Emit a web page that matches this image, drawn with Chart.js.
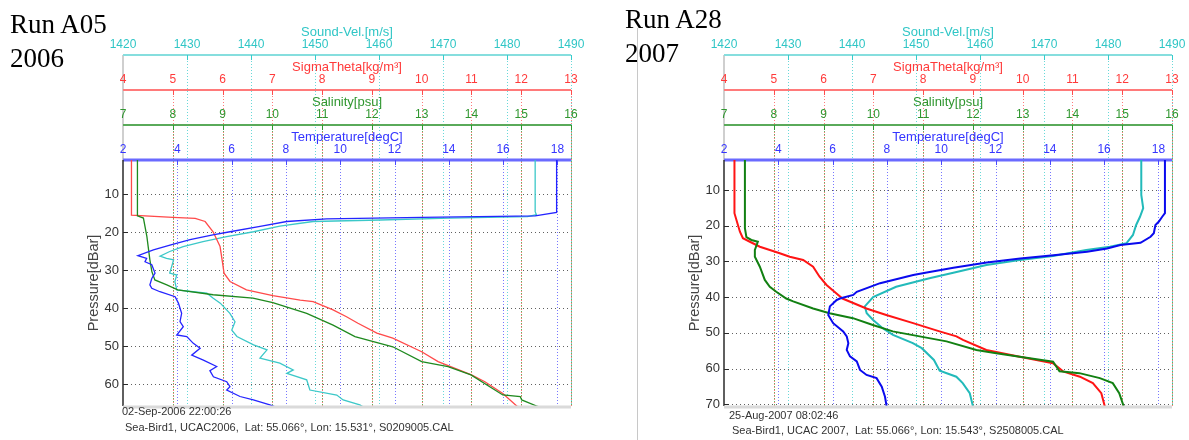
<!DOCTYPE html>
<html>
<head>
<meta charset="utf-8">
<title>CTD profiles — Run A05 (2006) and Run A28 (2007)</title>
<script src="https://cdn.jsdelivr.net/npm/chart.js@4.4.1/dist/chart.umd.min.js"></script>
<style>
  html, body { margin: 0; padding: 0; background: #fff; }
  body { position: relative; width: 1189px; height: 440px; overflow: hidden;
         font-family: 'Liberation Sans', Arial, sans-serif; }
  canvas { position: absolute; top: 0; }
  .run { position: absolute; font-family: 'Liberation Serif', 'Times New Roman', serif;
         font-size: 27px; line-height: 34px; color: #000; white-space: pre; }
  .info { position: absolute; font-size: 11px; line-height: 13px; color: #333; white-space: pre; }
  .divider { position: absolute; left: 637px; top: 28px; width: 1px; height: 412px; background: #c8c8c8; }
</style>
</head>
<body>
<div class="divider"></div>
<canvas id="runA05" width="620" height="440" style="left:0px"></canvas>
<canvas id="runA28" width="549" height="440" style="left:640px"></canvas>
<div class="run" style="left:10px;top:7px">Run A05
2006</div>
<div class="run" style="left:625px;top:2px">Run A28
2007</div>
<div class="info" style="left:122px;top:405px">02-Sep-2006 22:00:26</div>
<div class="info" style="left:125px;top:421px">Sea-Bird1, UCAC2006,  Lat: 55.066°, Lon: 15.531°, S0209005.CAL</div>
<div class="info" style="left:729px;top:409px">25-Aug-2007 08:02:46</div>
<div class="info" style="left:732px;top:424px">Sea-Bird1, UCAC 2007,  Lat: 55.066°, Lon: 15.543°, S2508005.CAL</div>

<script>
// ---------- axis ticks ----------
const SV_TICKS  = [1420, 1430, 1440, 1450, 1460, 1470, 1480, 1490];   // Sound-Vel. [m/s]
const SIG_TICKS = [4, 5, 6, 7, 8, 9, 10, 11, 12, 13];                 // SigmaTheta [kg/m3]
const SAL_TICKS = [7, 8, 9, 10, 11, 12, 13, 14, 15, 16];              // Salinity [psu]
const TMP_TICKS = [2, 4, 6, 8, 10, 12, 14, 16, 18];                   // Temperature [degC]
const P_TICKS_A05 = [10, 20, 30, 40, 50, 60];
const P_TICKS_A28 = [10, 20, 30, 40, 50, 60, 70];

// ---------- Run A05, 02-Sep-2006 ----------
const P_A05_TMP = [1, 14.8, 15.7, 16.1, 16.5, 17.2, 18.5, 19.9, 20.7, 22, 23.4, 24.7, 26.2, 26.9, 27.8, 28.6, 30.8, 32.2, 33.9, 34.8, 35.7, 37, 38.7, 41.4, 43.6, 44.9, 47.1, 47.5, 49.3, 50.6, 52.4, 53.7, 55.4, 56.5, 58.1, 59.4, 60.7, 61.6, 63.3, 64.2, 65.5, 66];
const TMP_A05   = [17.97, 17.97, 17.18, 13.0, 9.5, 8.03, 7.05, 5.94, 5.31, 4.47, 3.73, 3.12, 2.55, 2.87, 2.81, 3.06, 3.18, 3.06, 2.99, 3.06, 3.36, 3.92, 4.04, 4.16, 4.10, 4.22, 3.98, 4.35, 4.59, 4.84, 4.53, 4.96, 5.45, 5.20, 5.33, 5.82, 5.94, 5.82, 6.31, 6.80, 7.41, 7.6];

const P_A05_SV = [1, 14.6, 15.4, 15.9, 16.3, 16.8, 17.2, 18.4, 19.9, 21.2, 22.5, 23.8, 25.1, 26.3, 26.9, 27.3, 29.1, 30.8, 31.3, 33, 35.2, 36.1, 37.4, 38.7, 41.4, 43.6, 45.8, 47.5, 49.7, 51, 53.2, 54.5, 56.3, 57.2, 58.9, 61.6, 62.9, 64.2, 65.5, 66];
const SV_A05   = [1484.4, 1484.4, 1484.6, 1483.2, 1471.0, 1460.2, 1449.7, 1444.5, 1440.4, 1436.2, 1432.5, 1429.4, 1427.3, 1425.8, 1426.8, 1427.9, 1427.6, 1427.3, 1428.4, 1428.1, 1428.4, 1433.1, 1434.1, 1435.2, 1436.7, 1437.5, 1437.0, 1437.8, 1440.4, 1442.5, 1441.4, 1444.5, 1446.6, 1445.6, 1448.7, 1449.2, 1453.4, 1454.4, 1457.0, 1457.5];

const P_A05_SIG = [1, 15.5, 16.1, 16.4, 17.2, 19.9, 23.8, 28.1, 30.8, 33, 35.2, 36.7, 37.9, 38.3, 40.5, 42.3, 44, 46.6, 47.9, 51.5, 54.1, 57.6, 59.4, 62.5, 65.8, 66];
const SIG_A05   = [4.17, 4.17, 5.0, 5.45, 5.65, 5.81, 5.95, 6.00, 6.03, 6.15, 6.48, 7.01, 7.56, 7.82, 8.22, 8.49, 8.72, 9.1, 9.42, 10.0, 10.33, 11.0, 11.27, 11.63, 11.91, 11.95];

const P_A05_SAL = [1, 15.7, 16.3, 21.2, 27.3, 30.4, 32.6, 33.9, 35.2, 36.5, 37.4, 38.6, 41.4, 44.5, 47.5, 50.2, 54.1, 55.4, 57.6, 62.9, 63.3, 64.2, 65.8, 66];
const SAL_A05   = [7.29, 7.29, 7.41, 7.48, 7.54, 7.58, 7.64, 7.88, 8.10, 8.81, 9.61, 10.01, 10.69, 11.22, 11.66, 12.42, 13.0, 13.53, 13.99, 14.63, 14.98, 15.01, 15.31, 15.35];

// ---------- Run A28, 25-Aug-2007 ----------
const P_A28_TMP = [1.6, 16.5, 17.5, 18.9, 19.8, 22.1, 23.1, 24.8, 25.4, 26.4, 27.3, 28.3, 29.2, 30.3, 31.8, 33.1, 33.8, 36.1, 38.5, 39.4, 40.4, 40.8, 42.6, 45, 47.3, 49.6, 51, 52.9, 54.8, 56.6, 58, 60.4, 61.8, 62.7, 65.1, 67.9, 70.7];
const TMP_A28   = [18.24, 18.24, 18.14, 18.01, 17.89, 17.83, 17.71, 17.34, 16.60, 16.11, 15.37, 14.14, 12.91, 11.68, 10.45, 9.47, 8.97, 7.75, 6.89, 6.76, 6.27, 6.15, 5.90, 5.84, 6.02, 6.39, 6.52, 6.58, 6.52, 6.64, 6.89, 7.01, 7.25, 7.62, 7.81, 7.93, 7.99];

const P_A28_SV = [1.6, 11.4, 15.1, 17.5, 19.8, 22.6, 24.9, 25.9, 26.8, 28.5, 29.6, 31, 33.1, 34.7, 37.1, 40, 42.6, 44.5, 46.4, 48.7, 50.6, 52.9, 54.3, 57.6, 60.6, 62.3, 64.1, 66.9, 70.6];
const SV_A28   = [1485.2, 1485.2, 1485.5, 1485.0, 1484.4, 1483.9, 1482.9, 1480.3, 1476.6, 1471.4, 1466.2, 1461.0, 1456.0, 1452.1, 1446.9, 1443.3, 1442.0, 1442.3, 1443.3, 1444.8, 1446.4, 1449.5, 1450.9, 1452.8, 1453.7, 1456.3, 1457.3, 1458.4, 1458.9];

const P_A28_SIG = [1.6, 16.5, 18.4, 19.8, 21.7, 23.5, 24.5, 25.9, 26.8, 27.7, 28.7, 29.6, 31.5, 34.3, 36.6, 39, 40.4, 43.2, 45, 47.3, 49.6, 51, 52, 54.8, 56.7, 58.5, 60.8, 62.3, 64.1, 66.9, 70.6];
const SIG_A28   = [4.21, 4.21, 4.25, 4.28, 4.32, 4.38, 4.52, 4.72, 4.92, 5.12, 5.32, 5.59, 5.79, 5.92, 6.06, 6.26, 6.38, 6.86, 7.26, 7.80, 8.33, 8.67, 8.80, 9.27, 9.94, 10.61, 10.81, 11.15, 11.41, 11.58, 11.65];

const P_A28_SAL = [1.6, 20.7, 23.2, 24, 24.5, 26.8, 28.7, 31.5, 35.2, 37.1, 38.5, 40.4, 41.2, 43.2, 44.5, 45.9, 47.8, 49.6, 51, 52.4, 54.8, 55.7, 56.7, 58.1, 60.8, 61.3, 62.7, 64.1, 66.9, 70.6];
const SAL_A28   = [7.42, 7.42, 7.45, 7.55, 7.68, 7.62, 7.62, 7.72, 7.82, 7.92, 8.05, 8.25, 8.39, 8.79, 9.12, 9.59, 9.99, 10.39, 10.93, 11.47, 12.07, 12.47, 12.94, 13.61, 13.74, 14.14, 14.55, 14.81, 14.94, 15.03];

// ---------- axis appearance ----------
const FONT = "'Liberation Sans', Arial, sans-serif";
const AXES = {
  sv:  { title: 'Sound-Vel.[m/s]',     range: [1420, 1490], ticks: SV_TICKS,  text: '#2fc6c6', line: '#86dede', grid: '#35cccc', lw: 2, weight: 4 },
  sig: { title: 'SigmaTheta[kg/m³]',   range: [4, 13],      ticks: SIG_TICKS, text: '#ff3a3a', line: '#ff7a7a', grid: '#ff4d4d', lw: 2, weight: 3 },
  sal: { title: 'Salinity[psu]',       range: [7, 16],      ticks: SAL_TICKS, text: '#2f962f', line: '#5aaa5a', grid: '#2f9a2f', lw: 2, weight: 2 },
  tmp: { title: 'Temperature[degC]',   range: [2, 18.5],    ticks: TMP_TICKS, text: '#3535ff', line: '#6a6aff', grid: '#4a4aff', lw: 3, weight: 1 }
};
const AXIS_KEYS = ['sv', 'sig', 'sal', 'tmp'];

function series(p, v) { return p.map((pp, i) => ({ x: v[i], y: pp })); }

function topAxis(key) {
  const a = AXES[key];
  return {
    type: 'linear', axis: 'x', position: 'top', weight: a.weight,
    min: a.range[0], max: a.range[1],
    afterBuildTicks: s => { s.ticks = a.ticks.map(v => ({ value: v })); },
    afterFit: s => { s.height = 35; s.paddingLeft = 0; s.paddingRight = 0; },
    grid: { display: false, drawTicks: false },
    border: { display: false },
    ticks: { color: a.text, font: { family: FONT, size: 12 }, padding: 3,
             autoSkip: false, maxRotation: 0, minRotation: 0, callback: v => String(v) },
    title: { display: true, text: a.title, color: a.text,
             font: { family: FONT, size: 13 }, padding: { top: 5, bottom: 0 } }
  };
}

// grid, axis lines and frame of the profile plot, drawn beneath the axis labels
const profileFrame = {
  id: 'profileFrame',
  beforeDraw(chart) {
    const { ctx, chartArea: ca, scales } = chart;
    const seg = (x1, y1, x2, y2) => { ctx.beginPath(); ctx.moveTo(x1, y1); ctx.lineTo(x2, y2); ctx.stroke(); };
    ctx.save();
    ctx.lineWidth = 1;

    // pressure grid
    const ys = scales.y;
    ctx.strokeStyle = '#606060';
    ctx.setLineDash([1, 3]);
    ys.ticks.forEach(t => {
      const py = Math.round(ys.getPixelForValue(t.value)) + 0.5;
      seg(ca.left, py, ca.right, py);
    });

    // vertical grid of each top axis, from its own axis line downwards
    AXIS_KEYS.forEach(k => {
      const s = scales[k], a = AXES[k];
      ctx.strokeStyle = a.grid;
      ctx.globalAlpha = 0.75;
      ctx.setLineDash([1, 2]);
      s.ticks.forEach(t => {
        const px = Math.round(s.getPixelForValue(t.value)) + 0.5;
        if (px < ca.left + 2) return;
        seg(px, s.bottom, px, ca.bottom);
      });
    });
    ctx.globalAlpha = 1;
    ctx.setLineDash([]);

    // light line at the left of the axis stack
    ctx.strokeStyle = '#cfcfcf';
    ctx.lineWidth = 2;
    seg(ca.left, scales.sv.bottom, ca.left, ca.top);

    // axis lines and short tick marks
    AXIS_KEYS.forEach(k => {
      const s = scales[k], a = AXES[k];
      ctx.strokeStyle = a.line;
      ctx.lineWidth = a.lw;
      seg(ca.left, s.bottom, ca.right, s.bottom);
      ctx.lineWidth = 1;
      ctx.strokeStyle = a.grid;
      s.ticks.forEach(t => {
        const px = Math.round(s.getPixelForValue(t.value)) + 0.5;
        if (px < ca.left + 2) return;
        seg(px, s.bottom, px, s.bottom + 5);
      });
    });

    // pressure axis line and inward ticks
    ctx.strokeStyle = '#2a2a2a';
    ctx.lineWidth = 1.5;
    seg(ca.left, ca.top, ca.left, ca.bottom);
    ctx.lineWidth = 1;
    ys.ticks.forEach(t => {
      const py = Math.round(ys.getPixelForValue(t.value)) + 0.5;
      seg(ca.left, py, ca.left + 5, py);
    });
    ctx.restore();
  },
  afterDatasetsDraw(chart) {
    const { ctx, chartArea: ca } = chart;
    ctx.save();
    ctx.strokeStyle = '#dadada';
    ctx.lineWidth = 3;
    ctx.beginPath();
    ctx.moveTo(ca.left, ca.bottom + 1);
    ctx.lineTo(ca.right, ca.bottom + 1);
    ctx.stroke();
    ctx.restore();
  }
};

function profileChart(id, cfg) {
  const line = (label, data, axis, color, w) => ({
    label, data, xAxisID: axis, yAxisID: 'y',
    borderColor: color, borderWidth: w, pointRadius: 0, tension: 0, fill: false
  });
  return new Chart(document.getElementById(id), {
    type: 'line',
    data: {
      datasets: [
        line('Temperature', series(cfg.pTmp, cfg.tmp), 'tmp', cfg.colors[0], cfg.width),
        line('Salinity',    series(cfg.pSal, cfg.sal), 'sal', cfg.colors[1], cfg.width),
        line('SigmaTheta',  series(cfg.pSig, cfg.sig), 'sig', cfg.colors[2], cfg.width),
        line('Sound-Vel.',  series(cfg.pSv,  cfg.sv),  'sv',  cfg.colors[3], cfg.width)
      ]
    },
    options: {
      responsive: false, animation: false, devicePixelRatio: 1,
      layout: { padding: cfg.padding },
      plugins: { legend: { display: false }, tooltip: { enabled: false } },
      events: [],
      scales: {
        sv: topAxis('sv'), sig: topAxis('sig'), sal: topAxis('sal'), tmp: topAxis('tmp'),
        y: {
          type: 'linear', axis: 'y', position: 'left', reverse: true,
          min: cfg.pRange[0], max: cfg.pRange[1],
          afterBuildTicks: s => { s.ticks = cfg.pTicks.map(v => ({ value: v })); },
          afterFit: s => { s.width = 38; s.paddingTop = 0; s.paddingBottom = 0; },
          grid: { display: false, drawTicks: false },
          border: { display: false },
          ticks: { color: '#333', font: { family: FONT, size: 13 }, padding: 4 },
          title: { display: true, text: 'Pressure[dBar]', color: '#444',
                   font: { family: FONT, size: 14.5 }, padding: { top: 0, bottom: 0 } }
        }
      }
    },
    plugins: [profileFrame]
  });
}

profileChart('runA05', {
  pTmp: P_A05_TMP, tmp: TMP_A05, pSal: P_A05_SAL, sal: SAL_A05,
  pSig: P_A05_SIG, sig: SIG_A05, pSv: P_A05_SV, sv: SV_A05,
  pRange: [1, 65.8], pTicks: P_TICKS_A05,
  colors: ['#2424ff', '#1f8a1f', '#ff4a4a', '#3cc8c8'], width: 1.3,
  padding: { left: 85, right: 49, top: 20, bottom: 34 }
});

profileChart('runA28', {
  pTmp: P_A28_TMP, tmp: TMP_A28, pSal: P_A28_SAL, sal: SAL_A28,
  pSig: P_A28_SIG, sig: SIG_A28, pSv: P_A28_SV, sv: SV_A28,
  pRange: [1.6, 70.5], pTicks: P_TICKS_A28,
  colors: ['#0a0aee', '#128012', '#ff1414', '#22baba'], width: 2,
  padding: { left: 46, right: 17, top: 20, bottom: 34 }
});
</script>
</body>
</html>
